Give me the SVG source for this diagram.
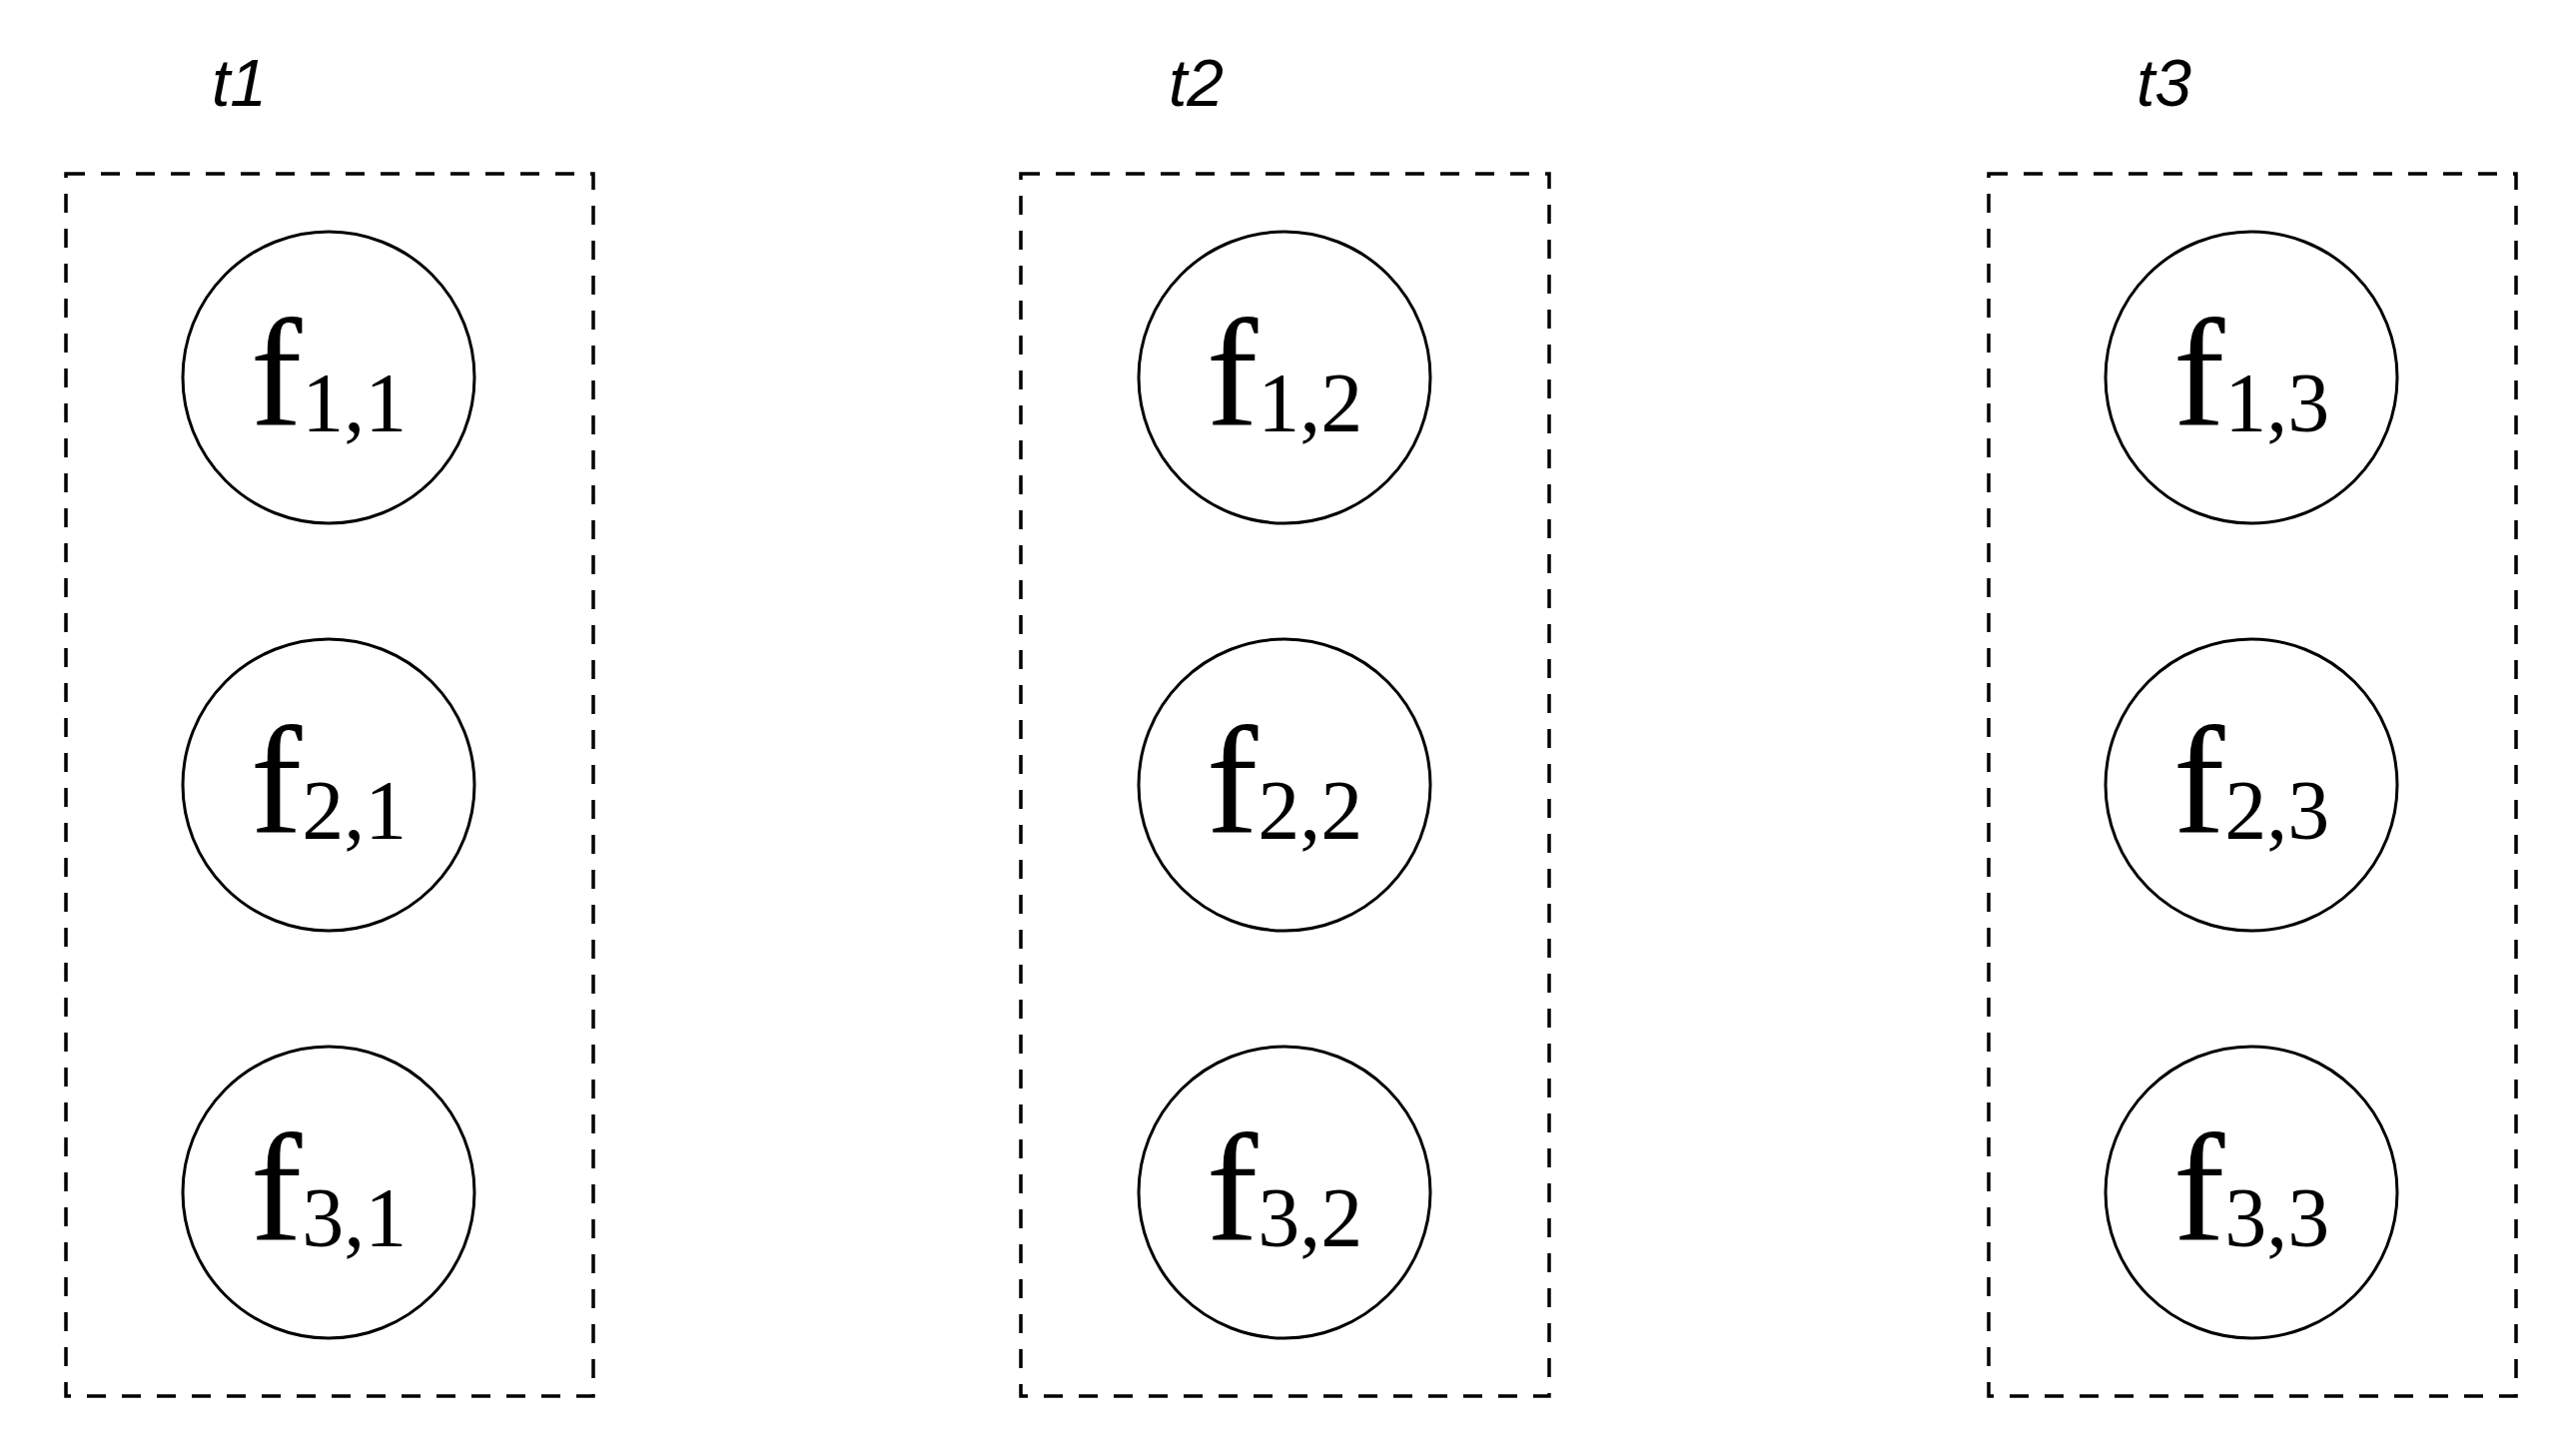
<svg xmlns="http://www.w3.org/2000/svg" width="2579" height="1455" viewBox="0 0 2579 1455">
<style>
.box{fill:none;stroke:#000;stroke-width:3.5;stroke-dasharray:19 16}
.node{fill:#fff;stroke:#000;stroke-width:3}
.lbl{font-family:"Liberation Serif","Times New Roman",serif;fill:#000}
.t{font-family:"Liberation Sans",Arial,sans-serif;font-style:italic;font-size:66px;fill:#000}
</style>
<rect width="2579" height="1455" fill="#fff"/>
<g id="group-t1">
<rect class="box" x="66" y="174" width="528" height="1224"/>
<text class="t" x="212" y="106">t1</text>
</g>
<g id="group-t2">
<rect class="box" x="1022" y="174" width="529" height="1224"/>
<text class="t" x="1170" y="106">t2</text>
</g>
<g id="group-t3">
<rect class="box" x="1991" y="174" width="528" height="1224"/>
<text class="t" x="2139" y="106">t3</text>
</g>
<g id="connectors"></g>
<g id="f11"><circle class="node" cx="329" cy="378" r="146"/><text class="lbl" x="329" y="426" text-anchor="middle"><tspan font-size="155">f</tspan><tspan font-size="84" dy="6">1,1</tspan></text></g>
<g id="f21"><circle class="node" cx="329" cy="786" r="146"/><text class="lbl" x="329" y="834" text-anchor="middle"><tspan font-size="155">f</tspan><tspan font-size="84" dy="6">2,1</tspan></text></g>
<g id="f31"><circle class="node" cx="329" cy="1194" r="146"/><text class="lbl" x="329" y="1242" text-anchor="middle"><tspan font-size="155">f</tspan><tspan font-size="84" dy="6">3,1</tspan></text></g>
<g id="f12"><circle class="node" cx="1286" cy="378" r="146"/><text class="lbl" x="1286" y="426" text-anchor="middle"><tspan font-size="155">f</tspan><tspan font-size="84" dy="6">1,2</tspan></text></g>
<g id="f22"><circle class="node" cx="1286" cy="786" r="146"/><text class="lbl" x="1286" y="834" text-anchor="middle"><tspan font-size="155">f</tspan><tspan font-size="84" dy="6">2,2</tspan></text></g>
<g id="f32"><circle class="node" cx="1286" cy="1194" r="146"/><text class="lbl" x="1286" y="1242" text-anchor="middle"><tspan font-size="155">f</tspan><tspan font-size="84" dy="6">3,2</tspan></text></g>
<g id="f13"><circle class="node" cx="2254" cy="378" r="146"/><text class="lbl" x="2254" y="426" text-anchor="middle"><tspan font-size="155">f</tspan><tspan font-size="84" dy="6">1,3</tspan></text></g>
<g id="f23"><circle class="node" cx="2254" cy="786" r="146"/><text class="lbl" x="2254" y="834" text-anchor="middle"><tspan font-size="155">f</tspan><tspan font-size="84" dy="6">2,3</tspan></text></g>
<g id="f33"><circle class="node" cx="2254" cy="1194" r="146"/><text class="lbl" x="2254" y="1242" text-anchor="middle"><tspan font-size="155">f</tspan><tspan font-size="84" dy="6">3,3</tspan></text></g>
</svg>
